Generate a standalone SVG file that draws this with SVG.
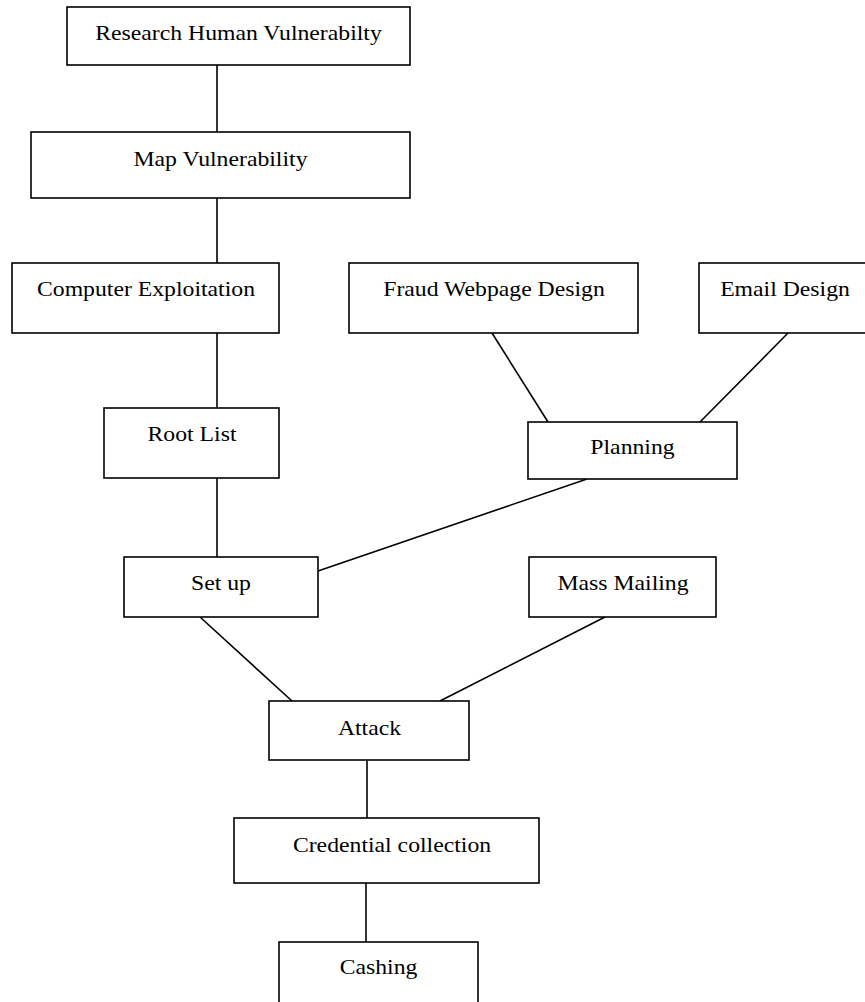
<svg xmlns="http://www.w3.org/2000/svg" width="865" height="1002" viewBox="0 0 865 1002">
<style>
rect.box { fill: #fff; stroke: #000; stroke-width: 1.6; }
#connectors line { stroke: #000; stroke-width: 1.6; }
text { font-family: "Liberation Serif", "Times New Roman", serif; font-size: 21px; fill: #000; text-anchor: middle; }
</style>
<rect width="865" height="1002" fill="#fff"/>
<g id="connectors">
  <line x1="217" y1="65" x2="217" y2="133"/>
  <line x1="217" y1="198" x2="217" y2="263"/>
  <line x1="217" y1="333" x2="217" y2="408"/>
  <line x1="217" y1="478" x2="217" y2="557"/>
  <line x1="492" y1="333" x2="548" y2="422"/>
  <line x1="788" y1="333" x2="700" y2="422"/>
  <line x1="587" y1="479" x2="318" y2="571"/>
  <line x1="200" y1="617" x2="292" y2="701"/>
  <line x1="605" y1="617" x2="440" y2="701"/>
  <line x1="367" y1="760" x2="367" y2="818"/>
  <line x1="366" y1="883" x2="366" y2="942"/>
</g>
<g id="research">
  <rect class="box" x="67" y="7" width="343" height="58"/>
  <text transform="translate(238.5,40) scale(1.13,1)">Research Human Vulnerabilty</text>
</g>
<g id="map">
  <rect class="box" x="31" y="132" width="379" height="66"/>
  <text transform="translate(220.5,166) scale(1.13,1)">Map Vulnerability</text>
</g>
<g id="computer">
  <rect class="box" x="12" y="263" width="267" height="70"/>
  <text transform="translate(146,296) scale(1.13,1)">Computer Exploitation</text>
</g>
<g id="fraud">
  <rect class="box" x="349" y="263" width="289" height="70"/>
  <text transform="translate(494,296) scale(1.13,1)">Fraud Webpage Design</text>
</g>
<g id="email">
  <rect class="box" x="699" y="263" width="172" height="70"/>
  <text transform="translate(785,296) scale(1.13,1)">Email Design</text>
</g>
<g id="rootlist">
  <rect class="box" x="104" y="408" width="175" height="70"/>
  <text transform="translate(192,441) scale(1.13,1)">Root List</text>
</g>
<g id="planning">
  <rect class="box" x="528" y="422" width="209" height="57"/>
  <text transform="translate(632.5,454) scale(1.13,1)">Planning</text>
</g>
<g id="setup">
  <rect class="box" x="124" y="557" width="194" height="60"/>
  <text transform="translate(221,590) scale(1.13,1)">Set up</text>
</g>
<g id="massmailing">
  <rect class="box" x="529" y="557" width="187" height="60"/>
  <text transform="translate(623,590) scale(1.13,1)">Mass Mailing</text>
</g>
<g id="attack">
  <rect class="box" x="269" y="701" width="200" height="59"/>
  <text transform="translate(369.5,735) scale(1.13,1)">Attack</text>
</g>
<g id="credential">
  <rect class="box" x="234" y="818" width="305" height="65"/>
  <text transform="translate(392,852) scale(1.13,1)">Credential collection</text>
</g>
<g id="cashing">
  <rect class="box" x="279" y="942" width="199" height="70"/>
  <text transform="translate(378.5,974) scale(1.13,1)">Cashing</text>
</g>
</svg>
